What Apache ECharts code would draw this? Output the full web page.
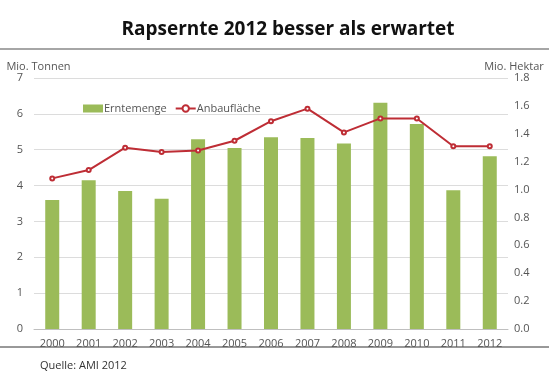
<!DOCTYPE html>
<html>
<head>
<meta charset="utf-8">
<script src="https://cdn.jsdelivr.net/npm/echarts@6/dist/echarts.min.js"></script>
<style>
  html, body { margin: 0; padding: 0; background: #fff; }
  #chart { width: 549px; height: 376px; }
</style>
</head>
<body>
<div id="chart"></div>
<script>
// Jahre und Werte
const years = ["2000", "2001", "2002", "2003", "2004", "2005", "2006", "2007", "2008", "2009", "2010", "2011", "2012"];
const erntemenge = [3.60, 4.15, 3.85, 3.63, 5.29, 5.05, 5.35, 5.33, 5.17, 6.31, 5.72, 3.87, 4.82];
const anbauflaeche = [1.08, 1.14, 1.30, 1.27, 1.28, 1.35, 1.49, 1.58, 1.41, 1.51, 1.51, 1.31, 1.31];

const font = "'Open Sans', 'DejaVu Sans', sans-serif";
const chart = echarts.init(document.getElementById("chart"));

chart.setOption({
    animation: false,
    textStyle: { fontFamily: font },
    title: {
        text: "Rapsernte 2012 besser als erwartet",
        left: 283,
        textAlign: "center",
        top: 15,
        textStyle: { fontFamily: font, fontSize: 19, fontWeight: "bold", color: "#111" }
    },
    legend: {
        left: 78,
        top: 98,
        itemGap: 8,
        itemWidth: 20,
        itemHeight: 8,
        textStyle: { fontSize: 11, color: "#555", padding: [0, 0, 0, -4] },
        data: [
            { name: "Erntemenge", icon: "rect" },
            { name: "Anbaufläche" }
        ]
    },
    grid: { left: 34, right: 41, top: 78, bottom: 47 },
    xAxis: {
        type: "category",
        data: years,
        axisLine: { lineStyle: { color: "#bfbfbf" } },
        axisTick: { show: false },
        axisLabel: { color: "#555", fontSize: 11, margin: 9 }
    },
    yAxis: [
        {
            type: "value",
            min: 0, max: 7, interval: 1,
            name: "Mio. Tonnen",
            nameGap: 6,
            nameTextStyle: { color: "#555", fontSize: 11, padding: [0, 0, 0, 9] },
            axisLabel: { color: "#555", fontSize: 11, margin: 11 },
            splitLine: { lineStyle: { color: "#dcdcdc" } }
        },
        {
            type: "value",
            min: 0, max: 1.8, interval: 0.2,
            name: "Mio. Hektar",
            nameGap: 6,
            nameTextStyle: { color: "#555", fontSize: 11, padding: [0, 0, 0, 12] },
            axisLabel: { color: "#555", fontSize: 11, margin: 6, formatter: v => v.toFixed(1) },
            splitLine: { show: false }
        }
    ],
    series: [
        {
            name: "Erntemenge",
            type: "bar",
            data: erntemenge,
            barWidth: 14,
            itemStyle: { color: "#9bbb59" }
        },
        {
            name: "Anbaufläche",
            type: "line",
            yAxisIndex: 1,
            data: anbauflaeche,
            symbol: "emptyCircle",
            symbolSize: 4,
            lineStyle: { color: "#be2d35", width: 2 },
            itemStyle: { color: "#be2d35", borderWidth: 1 }
        }
    ],
    graphic: [
        { type: "line", shape: { x1: 0, y1: 49, x2: 549, y2: 49 }, style: { stroke: "#888", lineWidth: 1.5 } },
        { type: "line", shape: { x1: 0, y1: 347, x2: 549, y2: 347 }, style: { stroke: "#333", lineWidth: 1 } },
        { type: "text", left: 40, top: 360, style: { text: "Quelle: AMI 2012", font: "11px " + font, fill: "#333" } }
    ]
});
</script>
</body>
</html>
